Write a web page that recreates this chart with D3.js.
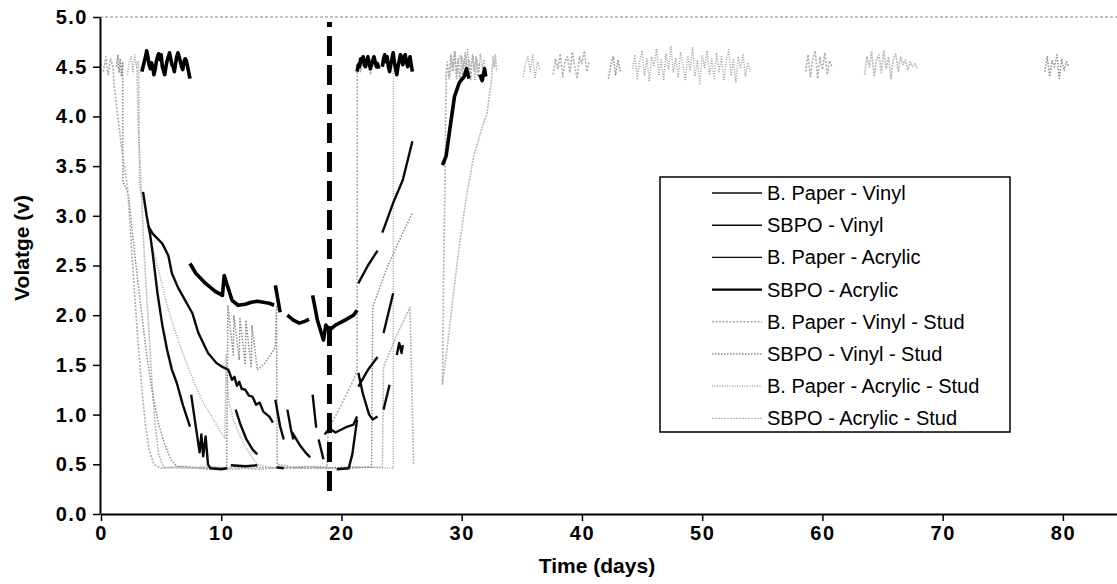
<!DOCTYPE html>
<html>
<head>
<meta charset="utf-8">
<script src="https://cdn.jsdelivr.net/npm/d3@7"></script>
<style>
  body { margin: 0; background: #fff; }
  svg { display: block; font-family: "Liberation Sans", Arial, sans-serif; }
</style>
</head>
<body>
<svg id="chart" width="1117" height="584"></svg>
<script>
// ---- data (days, volts) ----
const seriesNames = ["B. Paper - Vinyl", "SBPO - Vinyl", "B. Paper - Acrylic", "SBPO - Acrylic",
  "B. Paper - Vinyl - Stud", "SBPO - Vinyl - Stud", "B. Paper - Acrylic - Stud", "SBPO - Acrylic - Stud"];
const xTicks = [0, 10, 20, 30, 40, 50, 60, 70, 80];
const yTicks = [0, 0.5, 1.0, 1.5, 2.0, 2.5, 3.0, 3.5, 4.0, 4.5, 5.0];
const markerDay = 19, markerTop = 4.95, markerBottom = 0.16;

// sampled readings around 4.5 V (start day, step, values)
const sbpoAcTop1 = [4.45,4.5,4.55,4.6,4.66,4.6,4.52,4.48,4.54,4.5,4.42,4.47,4.55,4.6,4.63,4.57,4.62,4.5,4.46,4.42,4.5,4.56,4.6,4.64,4.58,4.52,4.5,4.45,4.53,4.6,4.64,4.6,4.55,4.5,4.47,4.55,4.58,4.56,4.5,4.44,4.38];
const sbpoAcTop2 = [4.45,4.52,4.5,4.58,4.55,4.6,4.52,4.5,4.56,4.6,4.54,4.48,4.52,4.56,4.6,4.55,4.5,4.53,4.48];
const sbpoAcTop3 = [4.5,4.58,4.62,4.55,4.6,4.5,4.45,4.52,4.58,4.64,4.55,4.48,4.42,4.5,4.56,4.62,4.6,4.52,4.58,4.62,4.55,4.5,4.56,4.6,4.52,4.45];
const bpvsTop0 = [4.45,4.6,4.42,4.58,4.5];
const bpvsTop1 = [4.55,4.45,4.6,4.5,4.58,4.42,4.55,4.6,4.48];
const bpvsTop2 = [4.55,4.38,4.62,4.45,4.66,4.4,4.58,4.35,4.6,4.48,4.64,4.42,4.57,4.37,4.62,4.46,4.6,4.4,4.55];
const bpvsTop3 = [4.42,4.58,4.48,4.63,4.4,4.56,4.6,4.44,4.65,4.5,4.38,4.6,4.53,4.66,4.45,4.55];
const bpvsTop4 = [4.45,4.62,4.4,4.58,4.66,4.38,4.6,4.47,4.64,4.42,4.56,4.5];
const sbvsTop0 = [4.5,4.62,4.44,4.58,4.4,4.55];
const sbvsTop1 = [4.38,4.52,4.6,4.42,4.57,4.45];
const sbvsTop2 = [4.45,4.6,4.4,4.56,4.5,4.62,4.38,4.58,4.46,4.55,4.5];
const bpasTop0 = [4.42,4.55,4.6,4.45,4.62,4.5,4.56];
const bpasTop1 = [4.4,4.6,4.47,4.65,4.38,4.56,4.62,4.42,4.58,4.5,4.67,4.4,4.55,4.6,4.36,4.58,4.45,4.63,4.48,4.57,4.42];
const bpasTop2 = [4.4,4.52,4.6,4.45,4.62,4.38,4.55,4.47];
const bpasTop3 = [4.48,4.62,4.38,4.55,4.66,4.41,4.58,4.35,4.6,4.5,4.68,4.42,4.57,4.36,4.63,4.47,4.7,4.44,4.59,4.39,4.65,4.52,4.37,4.61,4.46,4.69,4.4,4.56,4.33,4.62,4.49,4.66,4.43,4.58,4.38,4.64,4.45,4.6,4.36,4.55,4.67,4.42,4.57,4.34,4.6,4.48,4.63,4.4,4.54,4.45];
const sbasTop1 = [4.4,4.6,4.5,4.62,4.45];
const sbasTop2 = [4.42,4.6,4.5,4.65,4.4,4.57,4.62,4.44,4.66,4.48,4.6,4.38,4.58,4.63,4.45,4.6,4.52,4.57,4.47,4.55,4.5,4.53,4.48];

function run(start, step, vals) {
  return vals.map((v, i) => [start + i * step, v]);
}

const bpVinyl = [[3.5,3.24],[3.8,3.0],[4.1,2.8],[4.3,2.62],[4.7,2.22],[5.1,1.9],[5.5,1.65],[5.9,1.45],[6.3,1.32],[6.8,1.1],[7.4,0.88], null,
  [7.5,1.2],[7.8,0.95],[8.2,0.62],[8.35,0.8],[8.5,0.58],[8.7,0.78],[8.9,0.5],[9.1,0.46],[10.0,0.45],[10.5,0.46], null,
  [10.8,0.49],[12.0,0.48],[13.0,0.49], null, [14.6,0.47],[15.2,0.46], null,
  [19.6,0.45],[20.6,0.46],[20.9,0.6],[21.3,0.95], null,
  [21.4,1.28],[22.2,1.45],[23.0,1.58], null, [23.5,1.82],[24.3,2.22]];

const sbpoVinyl = [[11.2,1.05],[11.6,0.9],[12.1,0.75],[12.6,0.65],[13.0,0.6], null,
  [14.5,1.15],[14.9,0.88],[15.2,0.75], null, [15.5,1.05],[15.8,0.85],[16.0,0.75], null,
  [18.1,0.75],[18.5,0.55], null,
  [21.4,2.32],[22.2,2.5],[23.0,2.65], null, [23.4,2.83],[24.3,3.13],[25.1,3.36],[25.9,3.75]];

const bpAcrylic = [[3.9,2.9],[4.3,2.82],[5.1,2.72],[5.6,2.6],[5.9,2.42],[6.4,2.28],[7.0,2.15],[7.6,2.02],[8.1,1.82],[8.9,1.62],[9.6,1.52],[10.1,1.48],[10.6,1.45],
  [10.9,1.35],[11.1,1.38],[11.3,1.29],[11.5,1.33],[11.7,1.26],[12.0,1.25],[12.3,1.19],[12.6,1.18],[12.9,1.1],[13.2,1.12],[13.5,1.03],[13.8,1.0],[14.0,0.98],[14.3,0.92], null,
  [15.9,0.82],[16.5,0.7],[17.0,0.62],[17.4,0.57], null, [17.6,1.2],[17.9,0.87], null,
  [18.6,0.8],[19.0,0.86],[19.5,0.82],[20.0,0.85],[20.5,0.88],[21.0,0.9],[21.3,0.98], null,
  [21.4,1.42],[21.8,1.2],[22.3,1.0],[22.6,0.95],[23.0,0.98], null, [23.5,1.05],[24.0,1.3], null,
  [24.6,1.6],[24.8,1.72],[25.0,1.62],[25.1,1.7]];

const sbpoAcrylic = [...run(3.4, 0.1, sbpoAcTop1), null,
  [7.4,2.52],[7.9,2.42],[8.7,2.32],[9.5,2.24],[10.1,2.2],[10.25,2.4],[10.5,2.3],[10.9,2.15],[11.4,2.1],[12.0,2.11],[12.5,2.13],[13.0,2.14],[13.5,2.13],[14.0,2.12],[14.4,2.1], null,
  [14.5,2.3],[14.9,2.03], null, [15.5,2.0],[16.0,1.95],[16.5,1.92],[17.0,1.94],[17.3,1.96], null,
  [17.6,2.2],[18.0,1.95],[18.5,1.75],[18.7,1.9],[19.0,1.85],[19.5,1.9],[20.3,1.95],[21.0,2.0],[21.3,2.05], null,
  ...run(21.3, 0.1, sbpoAcTop2), null, ...run(23.4, 0.1, sbpoAcTop3), null,
  [28.4,3.51],[28.7,3.6],[29.0,3.86],[29.4,4.2],[29.8,4.34],[30.2,4.4],[30.4,4.48],[30.6,4.38], null,
  [31.5,4.42],[31.7,4.36],[31.9,4.48],[32.0,4.4]];

const bpVinylStud = [...run(0.2, 0.2, bpvsTop0), [1.1,4.3],[1.4,4.0],[1.7,3.7],[2.0,3.45],[2.2,3.3],[2.5,2.75],[2.8,2.2],[3.1,1.7],[3.4,1.25],[3.7,0.9],[4.0,0.65],[4.4,0.5],
  [5.0,0.46],[7.0,0.48],[9.0,0.45],[11.0,0.47],[13.0,0.45],[15.0,0.47],[17.0,0.46],[18.8,0.47],[18.9,0.85],[20.0,1.1],[21.0,1.35],[21.3,1.45],[21.32,4.5],
  ...run(21.4, 0.2, bpvsTop1), null,
  [28.4,1.3],[28.5,2.5],[28.6,3.2],[28.7,4.4], ...run(28.8, 0.15, bpvsTop2), null,
  ...run(37.6, 0.2, bpvsTop3), null, ...run(58.6, 0.2, bpvsTop4)];

const sbpoVinylStud = [...run(1.3, 0.1, sbvsTop0), [1.82,3.35],[2.0,3.3],[2.3,3.2],[2.8,2.62],[3.3,2.1],[3.8,1.6],[4.3,1.2],[4.8,0.9],[5.3,0.7],[5.8,0.55],[6.3,0.48],[8.0,0.46],[10.45,0.47],
  [10.55,2.1],[11.0,1.6],[11.05,2.0],[11.5,1.55],[11.55,1.98],[12.0,1.5],[12.05,1.95],[12.5,1.47],[12.55,1.9],[13.0,1.45],[13.5,1.5],[14.0,1.58],[14.5,1.68],[14.6,2.1],[14.65,0.5],
  [16.0,0.47],[18.0,0.46],[20.0,0.47],[22.5,0.47],[22.6,2.08],[23.7,2.45],[24.8,2.75],[25.9,3.03], null,
  ...run(42.2, 0.2, sbvsTop1), null, ...run(78.5, 0.2, sbvsTop2)];

const bpAcrylicStud = [...run(2.2, 0.15, bpasTop0), [3.15,4.5],[3.2,3.3],[3.6,3.1],[4.0,2.85],[4.5,2.58],[5.0,2.35],[5.5,2.1],[6.0,1.9],[6.5,1.72],[7.0,1.55],[7.5,1.4],[8.0,1.25],[8.5,1.12],[9.0,1.02],[9.5,0.92],[10.0,0.82],[10.3,0.76],
  [10.4,1.6],[10.6,1.15],[11.0,0.95],[11.5,0.8],[12.0,0.68],[12.5,0.58],[13.0,0.5],[14.0,0.47],[16.0,0.46],[18.0,0.48],[20.0,0.45],[22.0,0.47],[24.3,0.46],[24.32,4.5],[24.5,4.55], null,
  ...run(29.0, 0.15, bpasTop1), null, ...run(35.1, 0.2, bpasTop2), null, ...run(44.2, 0.2, bpasTop3)];

const sbpoAcrylicStud = [[3.0,4.5],[3.1,3.9],[3.3,3.4],[3.6,2.6],[3.9,2.0],[4.2,1.4],[4.5,0.9],[4.8,0.6],[5.2,0.47],[7.0,0.46],[9.0,0.48],[11.0,0.45],[13.0,0.47],[15.0,0.46],[17.0,0.48],[19.0,0.46],[21.0,0.47],[23.4,0.47],
  [23.5,1.48],[24.6,1.8],[25.7,2.08],[26.0,0.5], null,
  [28.4,1.32],[28.8,1.68],[29.3,2.2],[29.8,2.7],[30.4,3.2],[31.0,3.6],[31.6,3.85],[32.1,4.03],[32.4,4.3], ...run(32.5, 0.1, sbasTop1), null,
  ...run(63.5, 0.2, sbasTop2)];

const seriesData = [bpVinyl, sbpoVinyl, bpAcrylic, sbpoAcrylic, bpVinylStud, sbpoVinylStud, bpAcrylicStud, sbpoAcrylicStud];

// ---- styles ----
const styles = [
  {stroke: "#0a0a0a", width: 2.4, legend: 1.4, dash: null},
  {stroke: "#0a0a0a", width: 2.4, legend: 1.4, dash: null},
  {stroke: "#0a0a0a", width: 2.4, legend: 1.4, dash: null},
  {stroke: "#000", width: 3.6, legend: 2.2, dash: null},
  {stroke: "#acacac", width: 1.6, legend: 1.4, dash: "2,1.5"},
  {stroke: "#8c8c8c", width: 1.5, legend: 1.4, dash: "1.5,1.5"},
  {stroke: "#a3a3a3", width: 1.5, legend: 1.4, dash: "1,1.5"},
  {stroke: "#bababa", width: 1.6, legend: 1.4, dash: "2,1"}
];

const svg = d3.select("#chart");

const x = d3.scaleLinear().domain([0, 84.5]).range([101, 1117]);
const y = d3.scaleLinear().domain([0, 5]).range([514, 17]);

// top border of the plot area
svg.append("line")
  .attr("x1", 100).attr("x2", 1117)
  .attr("y1", y(5)).attr("y2", y(5))
  .attr("stroke", "#888").attr("stroke-width", 1).attr("stroke-dasharray", "3,2");

const line = d3.line()
  .defined(d => d !== null)
  .x(d => x(d[0]))
  .y(d => y(d[1]));

// grey stud series behind, black ones on top
const order = [7, 6, 5, 4, 0, 1, 2, 3];
order.forEach(i => {
  svg.append("path")
    .datum(seriesData[i])
    .attr("fill", "none")
    .attr("stroke", styles[i].stroke)
    .attr("stroke-width", styles[i].width)
    .attr("stroke-dasharray", styles[i].dash)
    .attr("stroke-linejoin", "round")
    .attr("d", line);
});

// dashed marker line
svg.append("line")
  .attr("x1", x(markerDay)).attr("x2", x(markerDay))
  .attr("y1", y(markerTop)).attr("y2", y(markerBottom))
  .attr("stroke", "#000").attr("stroke-width", 5)
  .attr("stroke-dasharray", "20,9").attr("stroke-dashoffset", 15);

// axes
const yAxis = svg.append("g")
  .attr("transform", "translate(100,0)")
  .call(d3.axisLeft(y).tickValues(yTicks).tickFormat(d3.format(".1f")).tickSize(7).tickPadding(5).tickSizeOuter(0));
const xAxis = svg.append("g")
  .attr("transform", "translate(0,514)")
  .call(d3.axisBottom(x).tickValues(xTicks).tickSize(7).tickPadding(5).tickSizeOuter(0));

[yAxis, xAxis].forEach(g => {
  g.attr("font-family", null).attr("font-size", null);
  g.select(".domain").attr("stroke-width", 2);
  g.selectAll(".tick line").attr("stroke-width", 1.5);
  g.selectAll(".tick text")
    .style("font-size", "20px").style("font-weight", "bold").style("letter-spacing", "1.5px").attr("fill", "#000");
});

// axis titles
svg.append("text")
  .attr("x", 597).attr("y", 573)
  .attr("text-anchor", "middle")
  .style("font-size", "21px").style("font-weight", "bold")
  .text("Time (days)");
svg.append("text")
  .attr("transform", "translate(29,248) rotate(-90)")
  .attr("text-anchor", "middle")
  .style("font-size", "21px").style("font-weight", "bold")
  .text("Volatge (v)");

// legend
const lg = svg.append("g");
lg.append("rect")
  .attr("x", 660).attr("y", 177).attr("width", 350).attr("height", 255)
  .attr("fill", "#fff").attr("stroke", "#000").attr("stroke-width", 1.5);
seriesNames.forEach((name, i) => {
  const ly = 193 + i * 32.2;
  lg.append("line")
    .attr("x1", 712).attr("x2", 762).attr("y1", ly).attr("y2", ly)
    .attr("stroke", styles[i].stroke)
    .attr("stroke-width", styles[i].legend)
    .attr("stroke-dasharray", styles[i].dash);
  lg.append("text")
    .attr("x", 767).attr("y", ly)
    .attr("dominant-baseline", "central")
    .style("font-size", "20px")
    .text(name);
});
</script>
</body>
</html>
